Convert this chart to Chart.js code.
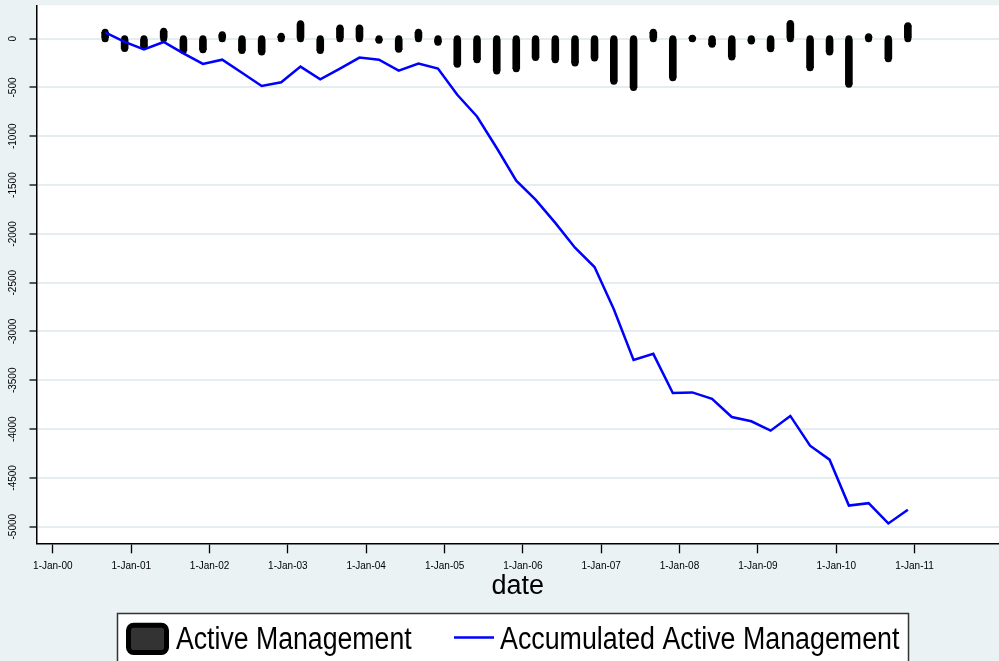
<!DOCTYPE html>
<html>
<head>
<meta charset="utf-8">
<title>Active Management</title>
<script src="https://cdn.jsdelivr.net/npm/chart.js@4.4.1/dist/chart.umd.min.js"></script>
<style>
  html, body { margin: 0; padding: 0; background: #eaf2f3; }
  #wrap { width: 999px; height: 661px; }
</style>
</head>
<body>
<div id="wrap"><canvas id="chart" width="999" height="661"></canvas></div>
<script>
// --- Datos trimestrales ---
const dates = [
  "2000-09-01", "2000-12-01",
  "2001-03-01", "2001-06-01", "2001-09-01", "2001-12-01",
  "2002-03-01", "2002-06-01", "2002-09-01", "2002-12-01",
  "2003-03-01", "2003-06-01", "2003-09-01", "2003-12-01",
  "2004-03-01", "2004-06-01", "2004-09-01", "2004-12-01",
  "2005-03-01", "2005-06-01", "2005-09-01", "2005-12-01",
  "2006-03-01", "2006-06-01", "2006-09-01", "2006-12-01",
  "2007-03-01", "2007-06-01", "2007-09-01", "2007-12-01",
  "2008-03-01", "2008-06-01", "2008-09-01", "2008-12-01",
  "2009-03-01", "2009-06-01", "2009-09-01", "2009-12-01",
  "2010-03-01", "2010-06-01", "2010-09-01", "2010-12-01",
];

const activeMgmt = [
  65, -100, -78, 75, -120, -113, 40, -120, -136, 25,
  153, -120, 109, 110, -15, -109, 65, -37, -263, -215,
  -331, -307, -194, -215, -249, -198, -436, -501, 65, -399,
  5, -58, -188, -25, -102, 155, -297, -136, -467, 20,
  -205, 133,
];

const accumulated = [
  65, -32, -109, -34, -150, -259, -215, -349, -484, -446,
  -286, -417, -306, -194, -215, -327, -255, -306, -575, -797,
  -1120, -1454, -1649, -1887, -2142, -2340, -2773, -3292, -3229, -3631,
  -3624, -3689, -3876, -3920, -4016, -3865, -4170, -4313, -4783, -4759,
  -4967, -4827,
];

const xTickDates = [
  "2000-01-01", "2001-01-01", "2002-01-01", "2003-01-01", "2004-01-01", "2005-01-01",
  "2006-01-01", "2007-01-01", "2008-01-01", "2009-01-01", "2010-01-01", "2011-01-01",
];
const xTickLabels = [
  "1-Jan-00", "1-Jan-01", "1-Jan-02", "1-Jan-03", "1-Jan-04", "1-Jan-05",
  "1-Jan-06", "1-Jan-07", "1-Jan-08", "1-Jan-09", "1-Jan-10", "1-Jan-11",
];
const yTicks = [-5000, -4500, -4000, -3500, -3000, -2500, -2000, -1500, -1000, -500, 0];

// --- Estilos ---
const BG = "#eaf2f3";
const GRID = "#e4edef";
const SANS = '"Liberation Sans", Arial, sans-serif';

const toMs = (d) => Date.parse(d + "T00:00:00Z");

// fondo gris azulado + área de trazado blanca (estilo Stata s2color)
const fondoStata = {
  id: "fondoStata",
  beforeDraw(chart) {
    const { ctx, chartArea: a } = chart;
    ctx.save();
    ctx.fillStyle = BG;
    ctx.fillRect(0, 0, chart.width, chart.height);
    ctx.fillStyle = "#fff";
    ctx.fillRect(a.left, a.top, a.right - a.left, a.bottom - a.top);
    ctx.restore();
  },
};

// texto estrecho (tipo Arial Narrow) escalando en horizontal
function narrowText(ctx, text, x, y, squeeze) {
  ctx.save();
  ctx.translate(x, y);
  ctx.scale(squeeze, 1);
  ctx.fillText(text, 0, 0);
  ctx.restore();
}

// leyenda en caja, abajo
const leyendaStata = {
  id: "leyendaStata",
  afterDraw(chart) {
    const { ctx } = chart;
    const lineDs = chart.data.datasets[0];
    const barDs = chart.data.datasets[1];
    ctx.save();
    ctx.fillStyle = "#fff";
    ctx.fillRect(117.5, 613.5, 791, 60);
    ctx.strokeStyle = "#333";
    ctx.lineWidth = 1.5;
    ctx.strokeRect(117.5, 613.5, 791, 60);

    ctx.beginPath();
    ctx.roundRect(128.5, 625.2, 38, 27.3, 5);
    ctx.fillStyle = "#333";
    ctx.fill();
    ctx.lineWidth = 5;
    ctx.strokeStyle = "#000";
    ctx.stroke();

    ctx.beginPath();
    ctx.moveTo(454, 637.5);
    ctx.lineTo(494, 637.5);
    ctx.strokeStyle = lineDs.borderColor;
    ctx.lineWidth = 2.5;
    ctx.stroke();

    ctx.fillStyle = "#000";
    ctx.font = "31px " + SANS;
    ctx.textBaseline = "alphabetic";
    narrowText(ctx, barDs.label, 176, 649, 0.86);
    narrowText(ctx, lineDs.label, 500, 649, 0.865);
    ctx.restore();
  },
};

const xs = dates.map(toMs);

new Chart(document.getElementById("chart"), {
  type: "bar",
  data: {
    datasets: [
      {
        type: "line",
        label: "Accumulated Active Management",
        data: xs.map((x, i) => ({ x, y: accumulated[i] })),
        borderColor: "#0000ff",
        borderWidth: 2.5,
        pointRadius: 0,
        tension: 0,
        order: 0,
      },
      {
        type: "bar",
        label: "Active Management",
        data: xs.map((x, i) => ({ x, y: [0, activeMgmt[i]] })),
        backgroundColor: "#000",
        barThickness: 7,
        order: 2,
      },
      {
        // extremos redondeados de las agujas
        type: "scatter",
        label: "caps",
        data: xs.flatMap((x, i) => [{ x, y: 0 }, { x, y: activeMgmt[i] }]),
        backgroundColor: "#000",
        borderWidth: 0,
        pointRadius: 3.5,
        pointHoverRadius: 3.5,
        order: 1,
      },
    ],
  },
  options: {
    responsive: false,
    animation: false,
    devicePixelRatio: 1,
    layout: { autoPadding: false, padding: { top: 5.3, left: 0, right: 0, bottom: 0 } },
    plugins: {
      legend: { display: false },
      tooltip: { enabled: false },
    },
    scales: {
      x: {
        type: "linear",
        offset: false,
        min: toMs("1999-10-17"),
        max: toMs("2012-01-30"),
        afterBuildTicks: (s) => {
          s.ticks = xTickDates.map((d) => ({ value: toMs(d) }));
        },
        afterFit: (s) => {
          s.height = 661 - 543.3;
          s.paddingLeft = 0;
          s.paddingRight = 0;
        },
        ticks: {
          autoSkip: false,
          maxRotation: 0,
          padding: 7,
          color: "#000",
          font: { family: SANS, size: 10 },
          callback: (v, i) => xTickLabels[i],
        },
        grid: {
          offset: false,
          drawOnChartArea: false,
          tickLength: 10,
          tickColor: "#000",
          tickWidth: 1.3,
        },
        border: { display: true, color: "#000", width: 1.5 },
        title: {
          display: true,
          text: "date",
          color: "#000",
          font: { family: SANS, size: 27, lineHeight: 1 },
          padding: { top: 0, bottom: 61 },
        },
      },
      y: {
        min: -5170,
        max: 342,
        afterBuildTicks: (s) => {
          s.ticks = yTicks.map((v) => ({ value: v }));
        },
        afterFit: (s) => {
          s.width = 36.5;
          s.paddingTop = 0;
          s.paddingBottom = 0;
        },
        ticks: {
          minRotation: 90,
          maxRotation: 90,
          crossAlign: "center",
          padding: 3,
          color: "#000",
          font: { family: SANS, size: 10 },
          callback: (v) => String(v),
        },
        grid: { color: GRID, lineWidth: 2, tickLength: 7, tickColor: "#000", tickWidth: 1.3 },
        border: { display: true, color: "#000", width: 1.5 },
      },
    },
  },
  plugins: [fondoStata, leyendaStata],
});
</script>
</body>
</html>
